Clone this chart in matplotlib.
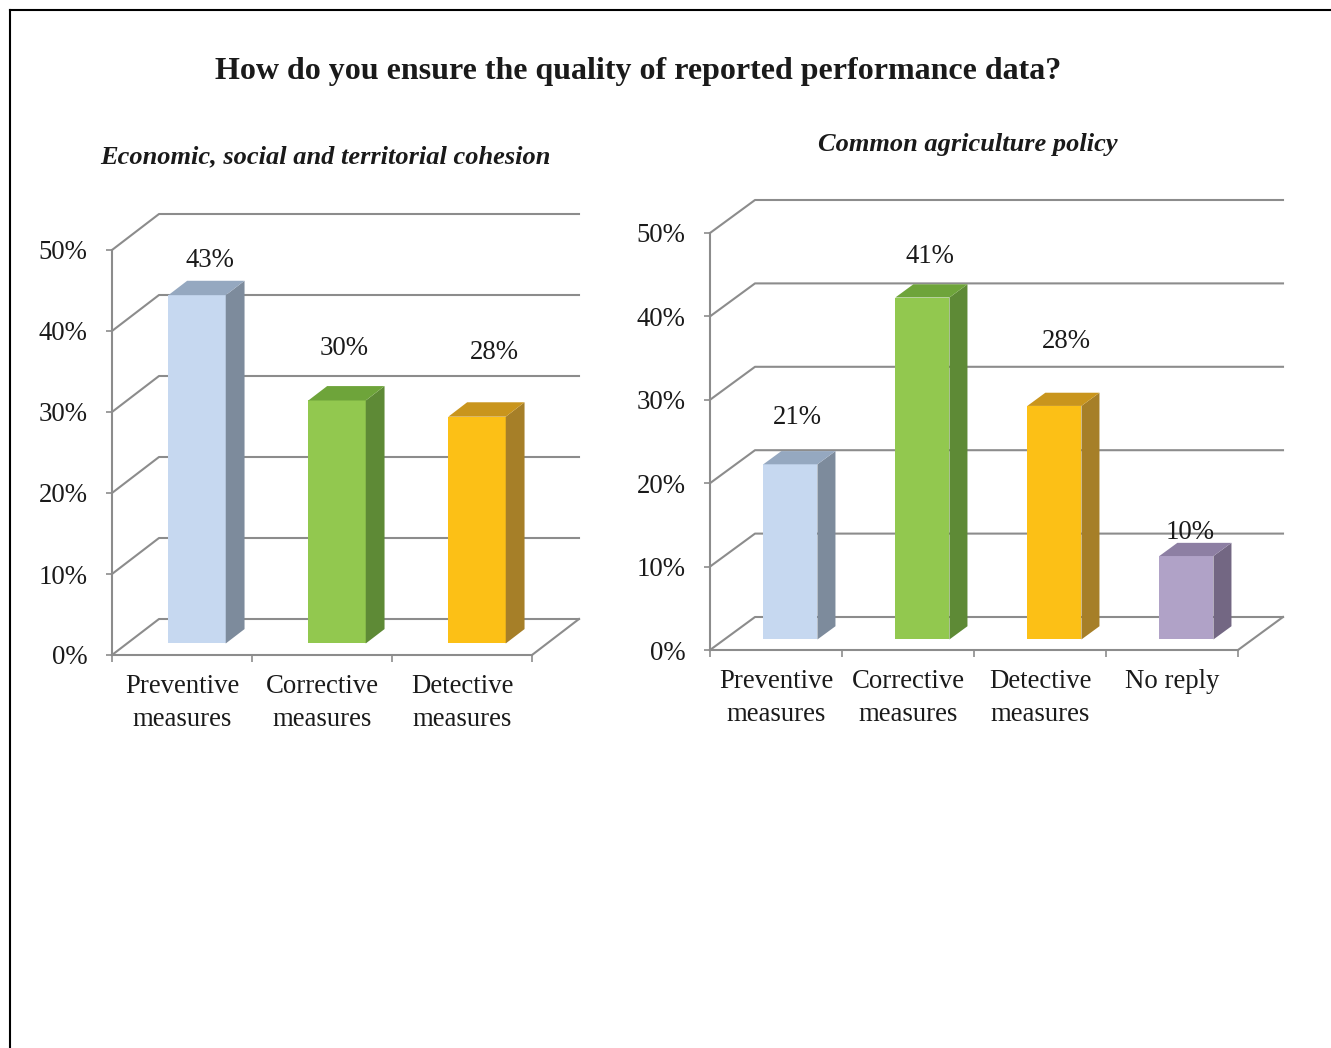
import matplotlib
matplotlib.use("Agg")
import matplotlib.pyplot as plt
from matplotlib.patches import Polygon, Rectangle
from matplotlib.lines import Line2D

plt.rcParams['font.family'] = ['Liberation Serif', 'DejaVu Serif']

# data
main_title = "How do you ensure the quality of reported performance data?"
cohesion_title = "Economic, social and territorial cohesion"
cohesion_labels = ["Preventive\nmeasures", "Corrective\nmeasures", "Detective\nmeasures"]
cohesion_values = [43, 30, 28]
cap_title = "Common agriculture policy"
cap_labels = ["Preventive\nmeasures", "Corrective\nmeasures", "Detective\nmeasures", "No reply"]
cap_values = [21, 41, 28, 10]
y_ticks = [0, 10, 20, 30, 40, 50]

# colours: front, side, top
blue = ("#C6D8F0", "#7D8B9C", "#95A8C0")
green = ("#92C84F", "#5E8A36", "#6EA43A")
gold = ("#FCC016", "#A67F28", "#C9951D")
purple = ("#B0A2C7", "#736783", "#8D7FA3")
GRID = "#8C8C8C"
TXT = "#1a1a1a"
FS = 19.3

W, H = 1331, 1048
fig = plt.figure(figsize=(W / 100, H / 100), dpi=100)


def px_axes(left, right, bottom, top):
    # axes box given in image pixels (y from the top)
    return fig.add_axes([left / W, (H - bottom) / H, (right - left) / W, (bottom - top) / H])


def draw_chart(ax, labels, values, colors, depth_px, label_offsets):
    n = len(values)
    ax.set_xlim(0, n)
    ax.set_ylim(0, 50)
    ax.set_facecolor("none")

    # size of one data unit in pixels, to turn the 3d depth into data units
    bb = ax.get_position()
    ux = bb.width * W / n
    uy = bb.height * H / 50
    dxu = depth_px[0] / ux
    dyu = depth_px[1] / uy

    # walls and floor
    for t in y_ticks:
        ax.add_line(Line2D([0, dxu, n + dxu], [t, t + dyu, t + dyu], color=GRID,
                           lw=1.5, clip_on=False, zorder=1))
    ax.add_line(Line2D([n, n + dxu], [0, dyu], color=GRID, lw=1.5, clip_on=False, zorder=1))

    # bars sit between depth fractions a and b
    a, b, w = 0.32, 0.72, 0.41
    ddx, ddy = (b - a) * dxu, (b - a) * dyu
    for i, v in enumerate(values):
        front, side, top = colors[i]
        x0 = i + 0.5 - w / 2 + a * dxu
        y0 = a * dyu
        ax.add_patch(Rectangle((x0, y0), w, v, facecolor=front, edgecolor="none",
                               clip_on=False, zorder=3))
        ax.add_patch(Polygon([(x0 + w, y0), (x0 + w + ddx, y0 + ddy),
                              (x0 + w + ddx, y0 + v + ddy), (x0 + w, y0 + v)],
                             facecolor=side, edgecolor="none", clip_on=False, zorder=3))
        ax.add_patch(Polygon([(x0, y0 + v), (x0 + w, y0 + v),
                              (x0 + w + ddx, y0 + v + ddy), (x0 + ddx, y0 + v + ddy)],
                             facecolor=top, edgecolor="none", clip_on=False, zorder=3))
        ax.annotate(f"{v}%", xy=(x0 + w / 2, y0 + v), xytext=label_offsets[i],
                    textcoords="offset pixels", ha="center", va="center",
                    fontsize=FS, color=TXT, annotation_clip=False, zorder=4)

    for s in ["top", "right"]:
        ax.spines[s].set_visible(False)
    for s in ["left", "bottom"]:
        ax.spines[s].set_color(GRID)
        ax.spines[s].set_linewidth(1.5)

    ax.set_yticks(y_ticks)
    ax.set_yticklabels([f"{t}%" for t in y_ticks])
    ax.tick_params(axis="y", length=4.5, width=1.2, color=GRID, pad=13,
                   labelsize=FS, labelcolor=TXT)
    ax.set_xticks(range(n + 1))
    ax.set_xticklabels([])
    ax.set_xticks([i + 0.5 for i in range(n)], minor=True)
    ax.set_xticklabels(labels, minor=True)
    ax.tick_params(axis="x", which="major", length=5, width=1.2, color=GRID)
    ax.tick_params(axis="x", which="minor", length=0, pad=14, labelsize=FS,
                   labelcolor=TXT)
    for lbl in ax.get_xticklabels(minor=True):
        lbl.set_linespacing(1.4)


ax1 = px_axes(112, 532, 655, 250)
draw_chart(ax1, cohesion_labels, cohesion_values, [blue, green, gold], (47, 36),
           [(13, 35), (7, 52), (17, 64)])

ax2 = px_axes(710, 1238, 650, 233)
draw_chart(ax2, cap_labels, cap_values, [blue, green, gold, purple], (45, 33),
           [(7, 47), (8, 41), (12, 64), (4, 24)])

fig.text(638 / W, 1 - 71 / H, main_title, ha="center", va="center",
         fontsize=23, fontweight="bold", color=TXT)
fig.text(325 / W, 1 - 157 / H, cohesion_title, ha="center", va="center",
         fontsize=19, fontweight="bold", style="italic", color=TXT)
fig.text(968 / W, 1 - 145 / H, cap_title, ha="center", va="center",
         fontsize=19, fontweight="bold", style="italic", color=TXT)

# frame around the picture (top and left edges visible)
fig.add_artist(Line2D([10 / W, 1], [1 - 10 / H, 1 - 10 / H], transform=fig.transFigure,
                      color="black", lw=1.5))
fig.add_artist(Line2D([10 / W, 10 / W], [1 - 10 / H, 0], transform=fig.transFigure,
                      color="black", lw=1.5))

fig.savefig("out.png", dpi=100)
